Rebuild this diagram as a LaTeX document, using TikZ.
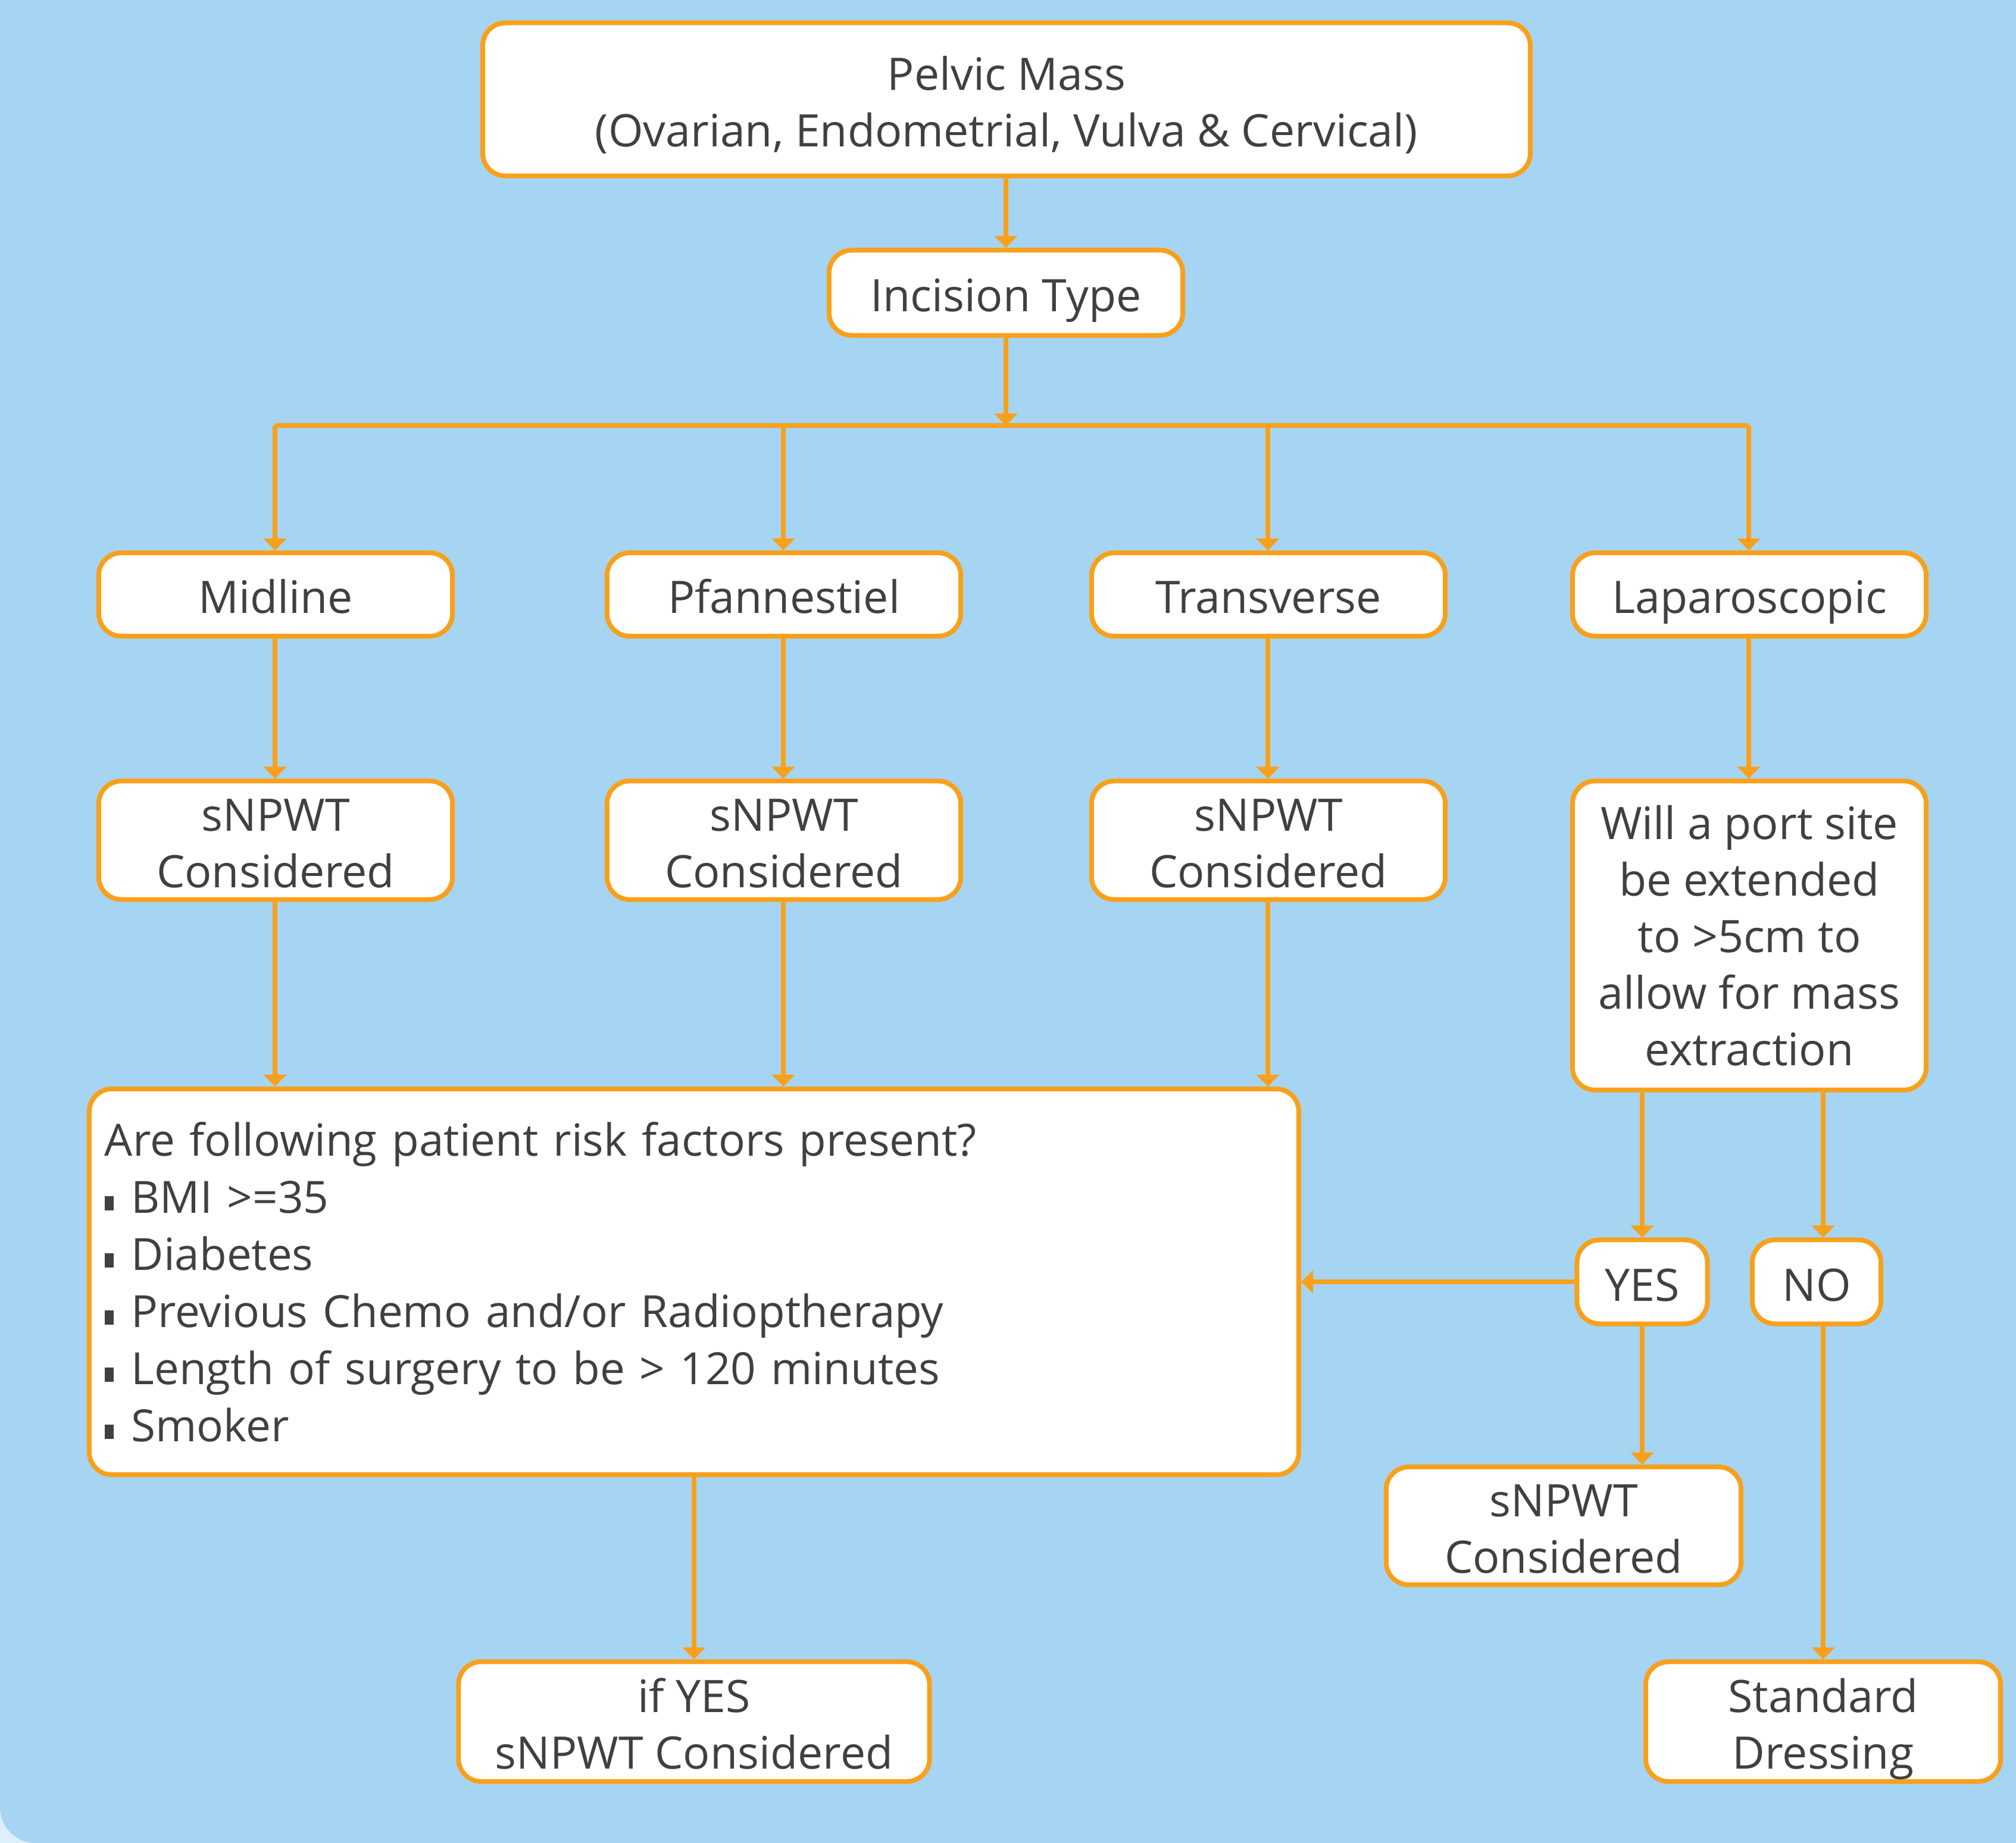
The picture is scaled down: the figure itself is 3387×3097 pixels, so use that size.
\documentclass[tikz,border=0pt]{standalone}
\usepackage{fontspec}
\setmainfont{Open Sans}
\usetikzlibrary{arrows.meta}
\definecolor{bgblue}{HTML}{A5D5F2}
\definecolor{cornercol}{HTML}{DDEFFA}
\definecolor{orng}{HTML}{F9A01B}
\definecolor{txt}{HTML}{404040}
\newcommand{\bul}{\rule[0.06em]{0.2em}{0.32em}\hspace{0.4em}}
\newcommand{\sth}{\rule{0pt}{1.1em}}
\newcommand{\std}{\rule[-0.25em]{0pt}{0.25em}}
\tikzset{
  box/.style={draw=orng, fill=white, line width=0.08cm, rounded corners=0.38cm,
    text=txt, align=center, inner sep=0pt,
    font=\fontsize{21.4}{27}\selectfont},
  conn/.style={draw=orng, line width=0.08cm, -{Triangle[length=0.2cm,width=0.38cm]}},
  plain/.style={draw=orng, line width=0.08cm}
}
\begin{document}
\begin{tikzpicture}[x=0.01cm, y=-0.01cm]
\useasboundingbox (0,0) rectangle (3387,3097);
\fill[cornercol] (0,0) rectangle (3387,3097);
\fill[bgblue] (0,0) -- (3387,0) -- (3387,3097) -- (60,3097) arc[start angle=90, end angle=180, radius=60] -- cycle;

\node[box, minimum width=17.59cm, minimum height=2.57cm] (pm) at (1691,167) {\sth Pelvic Mass\\(Ovarian, Endometrial, Vulva \& Cervical)\std};
\node[box, minimum width=5.94cm, minimum height=1.43cm] (it) at (1690,492) {\sth Incision Type\std};

\node[box, minimum width=5.94cm, minimum height=1.40cm] (mid) at (463,999) {\sth Midline\std};
\node[box, minimum width=5.94cm, minimum height=1.40cm] (pf) at (1317,999) {\sth Pfannestiel\std};
\node[box, minimum width=5.94cm, minimum height=1.40cm] (tr) at (2131,999) {\sth Transverse\std};
\node[box, minimum width=5.94cm, minimum height=1.40cm] (lap) at (2939,999) {\sth Laparoscopic\std};

\node[box, minimum width=5.94cm, minimum height=1.99cm] (s1) at (463,1412) {\sth sNPWT\\Considered\std};
\node[box, minimum width=5.94cm, minimum height=1.99cm] (s2) at (1317,1412) {\sth sNPWT\\Considered\std};
\node[box, minimum width=5.94cm, minimum height=1.99cm] (s3) at (2131,1412) {\sth sNPWT\\Considered\std};
\node[box, minimum width=5.94cm, minimum height=5.19cm] (port) at (2939,1572) {Will a port site\\be extended\\to >5cm to\\allow for mass\\extraction};

\node[box, minimum width=20.31cm, minimum height=6.48cm, align=left, text width=19.79cm,
  font=\fontsize{21.2}{27.3}\selectfont] (risk) at (1166,2154)
  {Are following patient risk factors present?\\\bul BMI >=35\\\bul Diabetes\\\bul Previous Chemo and/or Radioptherapy\\\bul Length of surgery to be > 120 minutes\\\bul Smoker};

\node[box, minimum width=2.19cm, minimum height=1.41cm] (yes) at (2759,2154) {\sth YES\std};
\node[box, minimum width=2.16cm, minimum height=1.41cm] (no) at (3052,2154) {\sth NO\std};

\node[box, minimum width=5.96cm, minimum height=1.98cm] (s4) at (2627,2564) {\sth sNPWT\\Considered\std};
\node[box, minimum width=7.91cm, minimum height=2.01cm] (ify) at (1166,2893) {\sth if YES\\sNPWT Considered\std};
\node[box, minimum width=5.96cm, minimum height=2.01cm] (stdd) at (3063,2893) {\sth Standard\\Dressing\std};

% connectors
\coordinate (j) at (1690,715);
\coordinate (bl) at (462,715);
\coordinate (br) at (2938,715);
\coordinate (bp) at (1316,715);
\coordinate (bt) at (2130,715);
\draw[conn] (pm.south -| it.north) -- (it.north);
\draw[conn] (it.south) -- (j);
\draw[plain] (bl) -- (br);
\draw[conn] (bl) -- (mid.north -| bl);
\draw[conn] (bp) -- (pf.north -| bp);
\draw[conn] (bt) -- (tr.north -| bt);
\draw[conn] (br) -- (lap.north -| br);

\draw[conn] (mid.south -| bl) -- (s1.north -| bl);
\draw[conn] (pf.south -| bp) -- (s2.north -| bp);
\draw[conn] (tr.south -| bt) -- (s3.north -| bt);
\draw[conn] (lap.south -| br) -- (port.north -| br);

\draw[conn] (s1.south -| bl) -- (risk.north -| bl);
\draw[conn] (s2.south -| bp) -- (risk.north -| bp);
\draw[conn] (s3.south -| bt) -- (risk.north -| bt);

\coordinate (py) at (2759,0);
\coordinate (pn) at (3063,0);
\draw[conn] (port.south -| py) -- (yes.north -| py);
\draw[conn] (port.south -| pn) -- (no.north -| pn);
\draw[conn] (yes.west) -- (risk.east |- yes.west);
\draw[conn] (yes.south -| py) -- (s4.north -| py);
\draw[conn] (no.south -| pn) -- (stdd.north -| pn);
\draw[conn] (risk.south) -- (ify.north);
\end{tikzpicture}
\end{document}
